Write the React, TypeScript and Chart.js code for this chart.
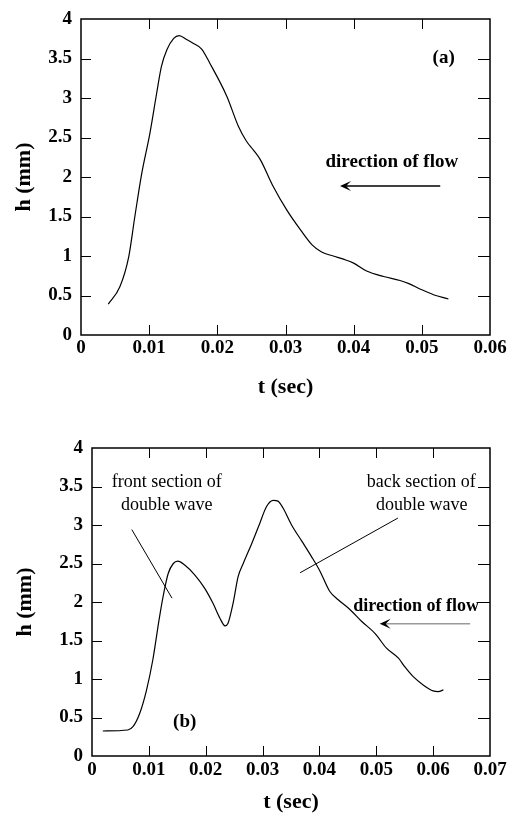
import React, { useEffect, useRef } from 'react';
import { Chart, registerables } from 'chart.js';

Chart.register(...registerables);

const FONT = "'Liberation Serif', 'Times New Roman', Times, serif";

// ---- Data: panel (a) ----
const tA = [0.0040, 0.0057, 0.0070, 0.0079, 0.0089, 0.0101, 0.0111, 0.0118, 0.0126, 0.0136, 0.0144, 0.0155, 0.0165, 0.0177, 0.0189, 0.0214, 0.0231, 0.0243, 0.0253, 0.0263, 0.0282, 0.0302, 0.0322, 0.0339, 0.0353, 0.0370, 0.0385, 0.0400, 0.0419, 0.0444, 0.0468, 0.0481, 0.0498, 0.0517, 0.0539];
const hA = [0.39, 0.61, 0.99, 1.50, 2.04, 2.55, 3.06, 3.40, 3.61, 3.755, 3.79, 3.74, 3.69, 3.62, 3.44, 3.02, 2.64, 2.45, 2.34, 2.22, 1.88, 1.58, 1.33, 1.14, 1.05, 1.00, 0.96, 0.91, 0.81, 0.74, 0.69, 0.65, 0.58, 0.51, 0.456];

// ---- Data: panel (b) ----
const tB = [0.0019, 0.0063, 0.0072, 0.0084, 0.0096, 0.0107, 0.0118, 0.0125, 0.0134, 0.0143, 0.0151, 0.0163, 0.0181, 0.0198, 0.0213, 0.0225, 0.0234, 0.0239, 0.0248, 0.0257, 0.0266, 0.0281, 0.0295, 0.0307, 0.0319, 0.0327, 0.0336, 0.0351, 0.0369, 0.0386, 0.0401, 0.0418, 0.0433, 0.0454, 0.0474, 0.0498, 0.0518, 0.0539, 0.0550, 0.0565, 0.0583, 0.0600, 0.0609, 0.0618];
const hB = [0.325, 0.338, 0.38, 0.555, 0.86, 1.25, 1.77, 2.07, 2.37, 2.50, 2.53, 2.48, 2.35, 2.18, 1.98, 1.79, 1.69, 1.72, 1.98, 2.33, 2.50, 2.76, 3.02, 3.24, 3.32, 3.31, 3.22, 3.00, 2.79, 2.59, 2.40, 2.14, 2.03, 1.90, 1.75, 1.59, 1.40, 1.27, 1.16, 1.03, 0.92, 0.845, 0.836, 0.858];

// ---- Tick values ----
const xTicksA = [0, 0.01, 0.02, 0.03, 0.04, 0.05, 0.06];
const xTicksB = [0, 0.01, 0.02, 0.03, 0.04, 0.05, 0.06, 0.07];
const yTicks = [0, 0.5, 1, 1.5, 2, 2.5, 3, 3.5, 4];

const xTitle = 't (sec)';
const yTitle = 'h (mm)';

// ---- Annotations (in data units) ----
const textsA = [
  { text: '(a)', t: 0.0532, h: 3.51, bold: true, size: 19 },
  { text: 'direction of flow', t: 0.0456, h: 2.19, bold: true, size: 19 },
];
const arrowsA = [{ t1: 0.0527, t2: 0.0380, h: 1.886, color: '#000', head: '#000' }];
const linesA: any[] = [];

const textsB = [
  { text: 'front section of', t: 0.01315, h: 3.56, bold: false, size: 18 },
  { text: 'double wave', t: 0.01315, h: 3.26, bold: false, size: 18 },
  { text: 'back section of', t: 0.0579, h: 3.56, bold: false, size: 18 },
  { text: 'double wave', t: 0.0580, h: 3.26, bold: false, size: 18 },
  { text: 'direction of flow', t: 0.0570, h: 1.95, bold: true, size: 18 },
  { text: '(b)', t: 0.0163, h: 0.44, bold: true, size: 19 },
];
const arrowsB = [{ t1: 0.0665, t2: 0.0506, h: 1.716, color: '#9a9a9a', head: '#000' }];
const linesB = [
  { t1: 0.0070, h1: 2.94, t2: 0.01407, h2: 2.05 },
  { t1: 0.0538, h1: 3.09, t2: 0.0366, h2: 2.38 },
];

const framePlugin = {
  id: 'frame',
  afterDatasetsDraw(chart: any, _args: any, opts: any) {
    const { ctx, chartArea: ca, scales } = chart;
    const xs = scales.x;
    const ys = scales.y;
    ctx.save();
    ctx.strokeStyle = '#000';
    ctx.lineWidth = 1;
    const seg = (x1: number, y1: number, x2: number, y2: number) => {
      ctx.beginPath();
      ctx.moveTo(x1, y1);
      ctx.lineTo(x2, y2);
      ctx.stroke();
    };
    xs.ticks.forEach((tk: any) => {
      const px = Math.round(xs.getPixelForValue(tk.value)) + 0.5;
      if (px <= ca.left + 2 || px >= ca.right - 2) return;
      seg(px, ca.bottom, px, ca.bottom - 10);
      seg(px, ca.top, px, ca.top + 10);
    });
    ys.ticks.forEach((tk: any) => {
      const py = Math.round(ys.getPixelForValue(tk.value)) + 0.5;
      if (py <= ca.top + 2 || py >= ca.bottom - 2) return;
      seg(ca.left, py, ca.left + 10, py);
      seg(ca.right, py, ca.right - 12, py);
    });
    ctx.lineWidth = 1.5;
    ctx.strokeRect(ca.left, ca.top, ca.right - ca.left, ca.bottom - ca.top);

    // leader lines
    ctx.lineWidth = 1;
    (opts.lines || []).forEach((l: any) => {
      seg(xs.getPixelForValue(l.t1), ys.getPixelForValue(l.h1), xs.getPixelForValue(l.t2), ys.getPixelForValue(l.h2));
    });
    // arrows
    (opts.arrows || []).forEach((a: any) => {
      const x1 = xs.getPixelForValue(a.t1);
      const x2 = xs.getPixelForValue(a.t2);
      const y = ys.getPixelForValue(a.h);
      ctx.strokeStyle = a.color;
      ctx.lineWidth = 1.5;
      seg(x1, y, x2 + 4, y);
      ctx.fillStyle = a.head;
      ctx.beginPath();
      ctx.moveTo(x2, y);
      ctx.lineTo(x2 + 11, y - 5);
      ctx.lineTo(x2 + 6, y);
      ctx.lineTo(x2 + 11, y + 5);
      ctx.closePath();
      ctx.fill();
    });
    // texts
    ctx.fillStyle = '#000';
    ctx.textAlign = 'center';
    ctx.textBaseline = 'middle';
    (opts.texts || []).forEach((t: any) => {
      ctx.font = `${t.bold ? 'bold ' : ''}${t.size}px ${FONT}`;
      ctx.fillText(t.text, xs.getPixelForValue(t.t), ys.getPixelForValue(t.h));
    });
    ctx.restore();
  },
};

const fmtX = (v: number) => (Math.abs(v) < 1e-9 ? '0' : v.toFixed(2));
const fmtY = (v: number) => String(Number(v.toFixed(1)));

function makeConfig(p: {
  t: number[]; h: number[]; xTicks: number[]; xMax: number;
  yAxisW: number; xAxisH: number; padTop: number; padRight: number;
  tickPadX: number; yTitlePad: number; xTitlePad: number;
  texts: any[]; arrows: any[]; lines: any[];
}): any {
  return {
    type: 'line',
    data: {
      datasets: [
        {
          data: p.t.map((x, i) => ({ x, y: p.h[i] })),
          borderColor: '#000',
          borderWidth: 1.2,
          pointRadius: 0,
          fill: false,
          cubicInterpolationMode: 'monotone',
        },
      ],
    },
    options: {
      animation: false,
      responsive: false,
      maintainAspectRatio: false,
      layout: { padding: { left: 0, top: p.padTop, right: p.padRight, bottom: 0 } },
      plugins: {
        legend: { display: false },
        tooltip: { enabled: false },
        frame: { texts: p.texts, arrows: p.arrows, lines: p.lines },
      },
      scales: {
        x: {
          type: 'linear',
          min: 0,
          max: p.xMax,
          grid: { display: false, drawTicks: false },
          border: { display: false },
          afterBuildTicks: (s: any) => { s.ticks = p.xTicks.map((v) => ({ value: v })); },
          afterFit: (s: any) => { s.height = p.xAxisH; s.paddingLeft = 0; s.paddingRight = 0; },
          ticks: {
            color: '#000',
            padding: p.tickPadX,
            maxRotation: 0,
            autoSkip: false,
            font: { family: FONT, size: 19, weight: 'bold' },
            callback: (v: any) => fmtX(Number(v)),
          },
          title: {
            display: true,
            text: xTitle,
            color: '#000',
            padding: { top: 0, bottom: p.xTitlePad },
            font: { family: FONT, size: 22, weight: 'bold', lineHeight: 1 },
          },
        },
        y: {
          type: 'linear',
          min: 0,
          max: 4,
          grid: { display: false, drawTicks: false },
          border: { display: false },
          afterBuildTicks: (s: any) => { s.ticks = yTicks.map((v) => ({ value: v })); },
          afterFit: (s: any) => { s.width = p.yAxisW; s.paddingTop = 0; s.paddingBottom = 0; },
          ticks: {
            color: '#000',
            padding: 9,
            autoSkip: false,
            font: { family: FONT, size: 19, weight: 'bold' },
            callback: (v: any) => fmtY(Number(v)),
          },
          title: {
            display: true,
            text: yTitle,
            color: '#000',
            padding: { top: p.yTitlePad, bottom: 0 },
            font: { family: FONT, size: 22, weight: 'bold', lineHeight: 1 },
          },
        },
      },
    },
    plugins: [framePlugin],
  };
}

function ChartCanvas({ config, width, height, top }: { config: any; width: number; height: number; top: number }) {
  const ref = useRef<HTMLCanvasElement | null>(null);
  useEffect(() => {
    if (!ref.current) return;
    const chart = new Chart(ref.current, config);
    return () => chart.destroy();
  }, []);
  return (
    <canvas
      ref={ref}
      width={width}
      height={height}
      style={{ position: 'absolute', left: 0, top, width, height, display: 'block' }}
    />
  );
}

export default function App() {
  const cfgA = makeConfig({
    t: tA, h: hA, xTicks: xTicksA, xMax: 0.06,
    yAxisW: 81, xAxisH: 65, padTop: 19, padRight: 17,
    tickPadX: 2, yTitlePad: 13, xTitlePad: 2,
    texts: textsA, arrows: arrowsA, lines: linesA,
  });
  const cfgB = makeConfig({
    t: tB, h: hB, xTicks: xTicksB, xMax: 0.07,
    yAxisW: 92, xAxisH: 57, padTop: 48, padRight: 17,
    tickPadX: 3, yTitlePad: 14, xTitlePad: 0,
    texts: textsB, arrows: arrowsB, lines: linesB,
  });
  return (
    <div style={{ position: 'absolute', left: 0, top: 0, width: 507, height: 813, background: '#fff' }}>
      <ChartCanvas config={cfgA} width={507} height={400} top={0} />
      <ChartCanvas config={cfgB} width={507} height={413} top={400} />
    </div>
  );
}
